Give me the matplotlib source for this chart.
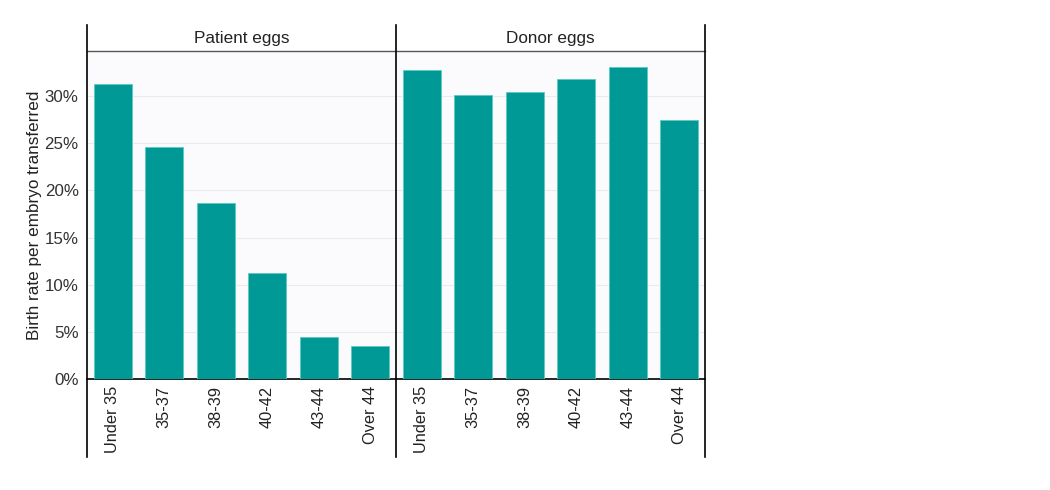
import matplotlib
matplotlib.use("Agg")
import matplotlib.pyplot as plt
from matplotlib.lines import Line2D
from matplotlib.ticker import PercentFormatter

plt.rcParams['font.family'] = ['Liberation Sans', 'DejaVu Sans']

categories = ["Under 35", "35-37", "38-39", "40-42", "43-44", "Over 44"]
panels = ["Patient eggs", "Donor eggs"]
patient_values = [31.35, 24.6, 18.65, 11.25, 4.45, 3.45]
donor_values = [32.8, 30.1, 30.5, 31.8, 33.1, 27.5]
yticks = [0, 5, 10, 15, 20, 25, 30]
ylabel = "Birth rate per embryo transferred"

W, H = 1050, 490
fig = plt.figure(figsize=(W / 100, H / 100), dpi=100)
fig.patch.set_facecolor('white')

bar_color = '#009995'
left_px, width_px = 87, 309
top_px, bottom_px = 51, 379
axes = []
for i, (title, vals) in enumerate(zip(panels, [patient_values, donor_values])):
    ax = fig.add_axes([(left_px + i * width_px) / W, (H - bottom_px) / H,
                       width_px / W, (bottom_px - top_px) / H])
    ax.set_facecolor('#fbfbfd')
    x = range(len(categories))
    ax.bar(x, vals, width=0.745, color=bar_color, edgecolor='#5cc9c4', linewidth=0.6, zorder=3)
    ax.set_xlim(-0.5, len(categories) - 0.5)
    ax.set_ylim(0, 34.8)
    ax.set_yticks(yticks)
    ax.yaxis.set_major_formatter(PercentFormatter(decimals=0))
    ax.grid(axis='y', color='#ebebeb', linewidth=0.8, zorder=0)
    ax.set_xticks(list(x))
    ax.set_xticklabels(categories, rotation=90, fontsize=11.8, color='#222222')
    ax.tick_params(axis='x', length=0, pad=5)
    ax.tick_params(axis='y', length=0, labelsize=12.2, colors='#333333', pad=6)
    for s in ['top', 'right', 'left']:
        ax.spines[s].set_visible(False)
    ax.spines['bottom'].set_color('black')
    ax.spines['bottom'].set_linewidth(1.2)
    if i == 1:
        ax.set_yticklabels([])
    else:
        ax.set_ylabel(ylabel, fontsize=12.3, color='#222222', labelpad=2)
    # strip header
    fig.text((left_px + i * width_px + width_px / 2) / W, 1 - 38 / H, title,
             ha='center', va='center', fontsize=12.3, color='#222222')
    axes.append(ax)

# strip bottom line
fig.add_artist(Line2D([left_px / W, (left_px + 2 * width_px) / W],
                      [1 - top_px / H, 1 - top_px / H], color='#555555', linewidth=1.0))
# panel borders
for k in range(3):
    xx = (left_px + k * width_px) / W
    fig.add_artist(Line2D([xx, xx], [1 - 25 / H, 1 - 457 / H], color='black', linewidth=1.2))

fig.savefig('out.png', dpi=100)
